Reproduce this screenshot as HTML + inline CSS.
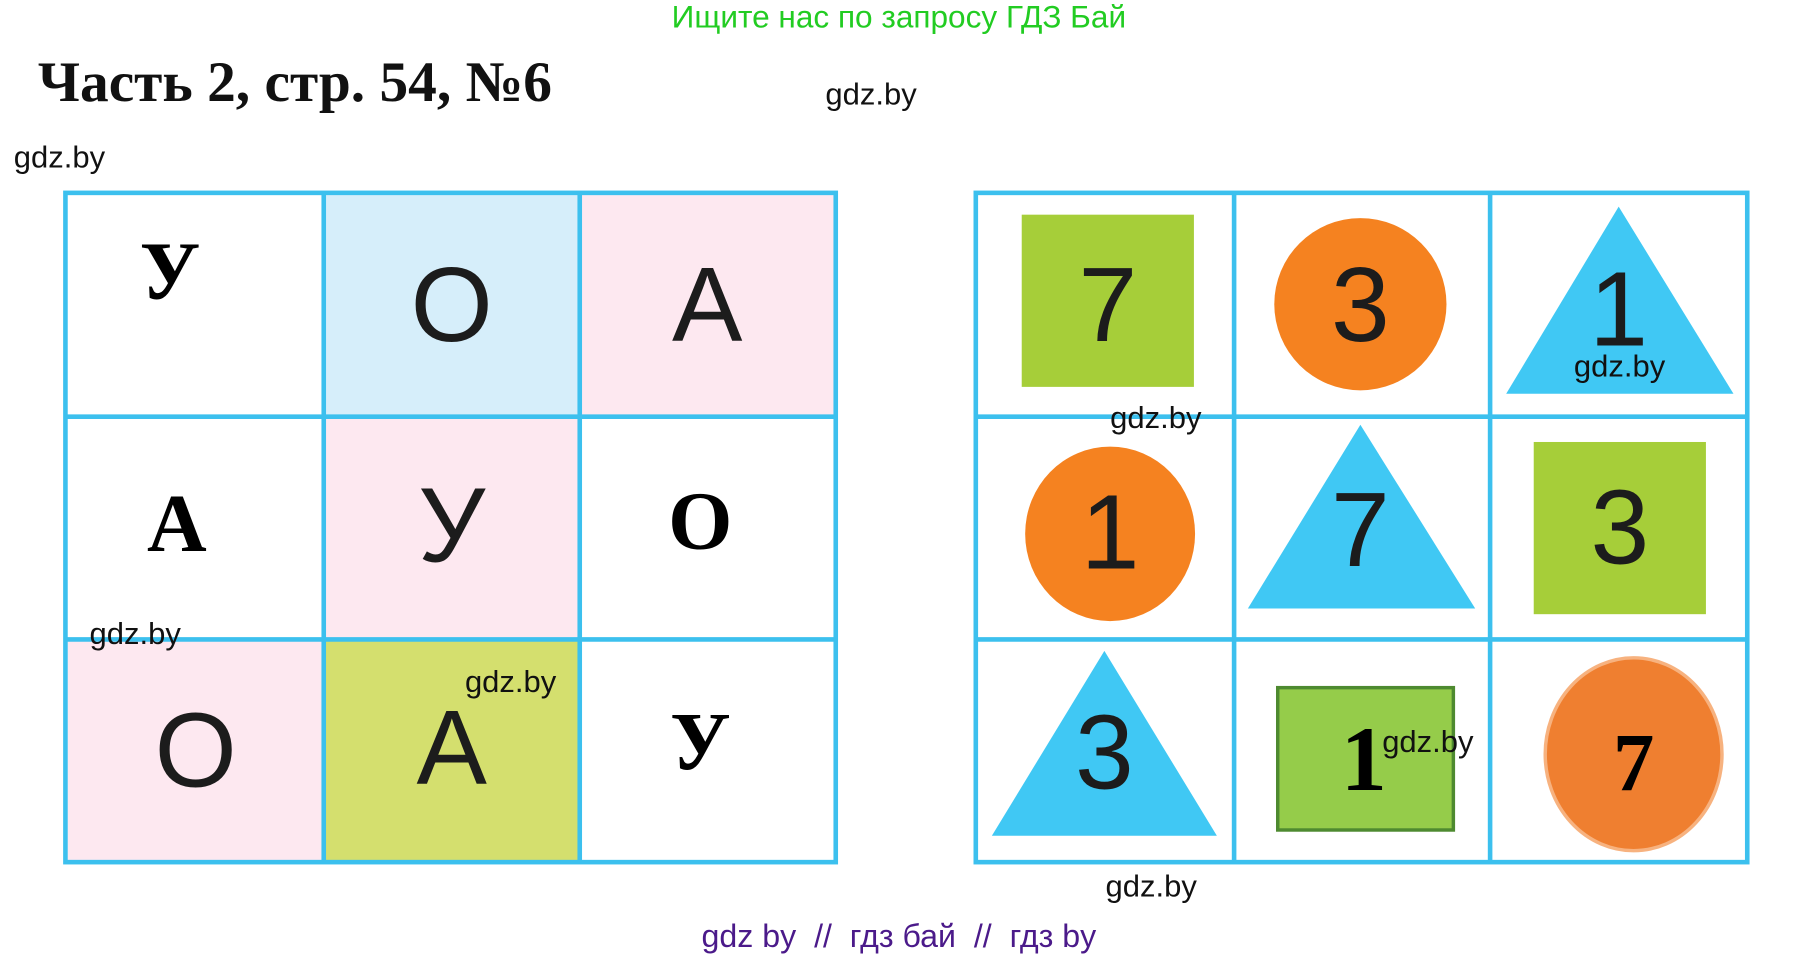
<!DOCTYPE html>
<html><head><meta charset="utf-8"><style>
html,body{margin:0;padding:0;background:#fff;overflow:hidden}
#w{position:absolute;left:0;top:0;width:1568px;height:835px;transform:scale(1.148);transform-origin:0 0;font-family:"Liberation Sans",sans-serif}
.a{position:absolute;white-space:nowrap}
.g{font-size:27px;color:#111}
.L{position:absolute;font-family:"Liberation Sans",sans-serif;font-size:92px;color:#1c1c1c;text-align:center;line-height:1}
.S{position:absolute;font-family:"Liberation Serif",serif;font-weight:bold;font-size:72px;color:#000;text-align:center;line-height:1}
</style></head><body><div id="w">
<div class="a" style="left:0;width:1566px;text-align:center;top:-1px;font-size:27.5px;color:#22cc22">Ищите нас по запросу ГДЗ Бай</div>
<div class="a" style="left:33px;top:42px;font-family:'Liberation Serif',serif;font-weight:bold;font-size:50px;color:#111">Часть 2, стр. 54, №6</div>

<svg class="a" style="left:0;top:0" width="1568" height="835">
<rect x="282" y="170" width="223" height="193" fill="#d6eefa"/>
<rect x="505" y="170" width="222" height="193" fill="#fde8f0"/>
<rect x="282" y="363" width="223" height="194" fill="#fde8f0"/>
<rect x="59" y="557" width="223" height="193" fill="#fde8f0"/>
<rect x="282" y="557" width="223" height="193" fill="#d4df6e"/>
<g stroke="#3cc0ee" stroke-width="4" fill="none">
<rect x="57" y="168" width="671" height="583"/>
<line x1="282" y1="168" x2="282" y2="751"/><line x1="505" y1="168" x2="505" y2="751"/>
<line x1="57" y1="363" x2="728" y2="363"/><line x1="57" y1="557" x2="728" y2="557"/>
<rect x="850" y="168" width="672" height="583"/>
<line x1="1075" y1="168" x2="1075" y2="751"/><line x1="1298" y1="168" x2="1298" y2="751"/>
<line x1="850" y1="363" x2="1522" y2="363"/><line x1="850" y1="557" x2="1522" y2="557"/>
</g>
<rect x="890" y="187" width="150" height="150" fill="#a6ce39"/>
<circle cx="1185" cy="265" r="75" fill="#f58220"/>
<polygon points="1410,180 1312,343 1510,343" fill="#40c8f4"/>
<ellipse cx="967" cy="465" rx="74" ry="76" fill="#f58220"/>
<polygon points="1185,370 1087,530 1285,530" fill="#40c8f4"/>
<rect x="1336" y="385" width="150" height="150" fill="#a6ce39"/>
<polygon points="962,567 864,728 1060,728" fill="#40c8f4"/>
<rect x="1113" y="599" width="153" height="124" fill="#95cc4a" stroke="#4e8a30" stroke-width="3"/>
<ellipse cx="1423" cy="657" rx="77" ry="84" fill="#ef7f30" stroke="#f7b27f" stroke-width="3"/>
</svg>

<div class="S" style="left:100px;top:200px;width:96px">У</div>
<div class="L" style="left:282px;top:220px;width:223px">O</div>
<div class="L" style="left:505px;top:220px;width:222px">A</div>
<div class="S" style="left:59px;top:420px;width:190px">А</div>
<div class="L" style="left:282px;top:412px;width:223px">У</div>
<div class="S" style="left:505px;top:418px;width:210px">О</div>
<div class="L" style="left:59px;top:608px;width:223px">O</div>
<div class="L" style="left:282px;top:606px;width:223px">A</div>
<div class="S" style="left:505px;top:610px;width:210px">У</div>

<div class="L" style="left:890px;top:220px;width:150px">7</div>
<div class="L" style="left:1110px;top:220px;width:150px">3</div>
<div class="L" style="left:1335px;top:224px;width:150px">1</div>
<div class="L" style="left:892px;top:418px;width:150px">1</div>
<div class="L" style="left:1110px;top:416px;width:150px">7</div>
<div class="L" style="left:1336px;top:414px;width:150px">3</div>
<div class="L" style="left:887px;top:610px;width:150px">3</div>
<div class="S" style="left:1113px;top:622px;width:150px;font-size:80px">1</div>
<div class="S" style="left:1348px;top:628px;width:150px">7</div>

<div class="a g" style="left:719px;top:67px">gdz.by</div>
<div class="a g" style="left:12px;top:122px">gdz.by</div>
<div class="a g" style="left:967px;top:349px">gdz.by</div>
<div class="a g" style="left:1371px;top:304px">gdz.by</div>
<div class="a g" style="left:78px;top:537px">gdz.by</div>
<div class="a g" style="left:405px;top:579px">gdz.by</div>
<div class="a g" style="left:1204px;top:631px">gdz.by</div>
<div class="a g" style="left:963px;top:757px">gdz.by</div>
<div class="a" style="left:0;width:1566px;text-align:center;top:800px;font-size:28px;color:#4b1a8a">gdz by&nbsp; //&nbsp; гдз бай&nbsp; //&nbsp; гдз by</div>
</div></body></html>
